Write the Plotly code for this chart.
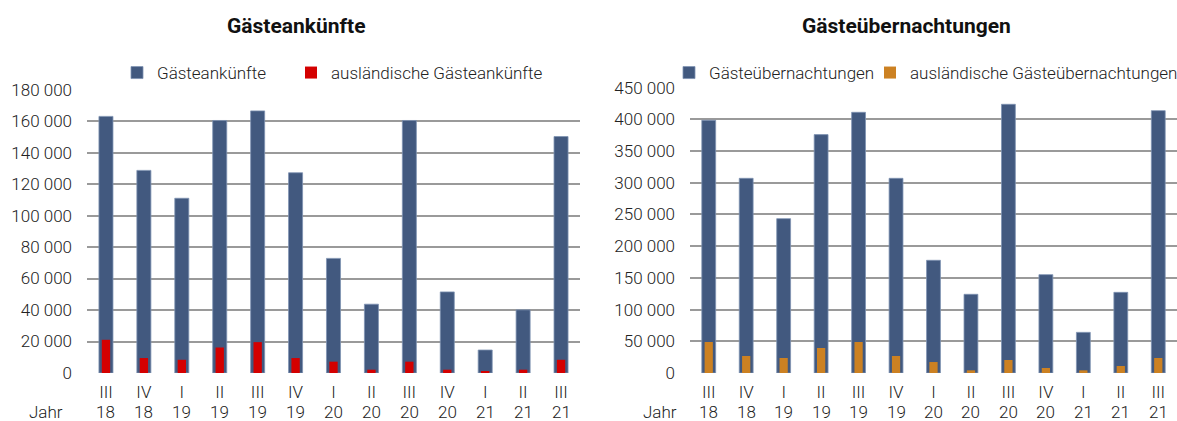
import plotly.graph_objects as go

quarters = ["III", "IV", "I", "II", "III", "IV", "I", "II", "III", "IV", "I", "II", "III"]
years = ["18", "18", "19", "19", "19", "19", "20", "20", "20", "20", "21", "21", "21"]

arrivals = [163000, 128700, 111000, 160400, 166500, 127200, 72800, 43700, 160400, 51500, 14600, 40100, 150200]
arrivals_foreign = [21100, 9500, 8400, 16200, 19600, 9500, 7200, 2100, 7200, 2100, 850, 2100, 8400]

nights = [398500, 307000, 243400, 375900, 411100, 307000, 177700, 124100, 423700, 155100, 64100, 127200, 413700]
nights_foreign = [48900, 26800, 23700, 39400, 48900, 26800, 17300, 4200, 20500, 7900, 4200, 11000, 23700]

BLUE = "#42597f"
BLUE_EDGE = "#7f93b3"
RED = "#d40000"
ORANGE = "#cc8122"
GRID = "#9a9a9a"
TXT = "#222222"
FONT = "Roboto"

xs = list(range(len(quarters)))

fig = go.Figure()
fig.add_trace(go.Bar(x=xs, y=arrivals, name="Gästeankünfte", width=0.37,
                     marker=dict(color=BLUE, line=dict(color=BLUE_EDGE, width=0.8)),
                     xaxis="x", yaxis="y", legend="legend"))
fig.add_trace(go.Bar(x=xs, y=arrivals_foreign, name="ausländische Gästeankünfte", width=0.22,
                     marker=dict(color=RED, line=dict(width=0)),
                     xaxis="x", yaxis="y", legend="legend2"))
fig.add_trace(go.Bar(x=xs, y=nights, name="Gästeübernachtungen", width=0.37,
                     marker=dict(color=BLUE, line=dict(color=BLUE_EDGE, width=0.8)),
                     xaxis="x2", yaxis="y2", legend="legend3"))
fig.add_trace(go.Bar(x=xs, y=nights_foreign, name="ausländische Gästeübernachtungen", width=0.22,
                     marker=dict(color=ORANGE, line=dict(width=0)),
                     xaxis="x2", yaxis="y2", legend="legend4"))

W, H = 1177, 421
def px(xp):
    return xp / W
def py(yp):
    return (H - yp) / H

axis_font = dict(family=FONT, size=17, color=TXT, weight=300)

xcommon = dict(tickmode="array", tickvals=xs, ticktext=quarters, showgrid=False,
               zeroline=False, showline=False, ticks="", tickfont=axis_font, ticklabelstandoff=7)
ycommon = dict(showgrid=True, gridcolor=GRID, gridwidth=2, zeroline=False, showline=False,
               ticks="", tickfont=axis_font, tickformat=",d", ticklabelstandoff=14)

annotations = []
for i, yr in enumerate(years):
    annotations.append(dict(x=i, y=py(412), xref="x", yref="paper", text=yr, showarrow=False,
                            font=axis_font, xanchor="center", yanchor="middle"))
    annotations.append(dict(x=i, y=py(412), xref="x2", yref="paper", text=yr, showarrow=False,
                            font=axis_font, xanchor="center", yanchor="middle"))
annotations.append(dict(x=px(46), y=py(412), xref="paper", yref="paper", text="Jahr", showarrow=False,
                        font=axis_font, xanchor="center", yanchor="middle"))
annotations.append(dict(x=px(660), y=py(412), xref="paper", yref="paper", text="Jahr", showarrow=False,
                        font=axis_font, xanchor="center", yanchor="middle"))
title_font = dict(family=FONT, size=21, color="#111111")
annotations.append(dict(x=px(297), y=py(26), xref="paper", yref="paper", text="<b>Gästeankünfte</b>",
                        showarrow=False, font=title_font, xanchor="center", yanchor="middle"))
annotations.append(dict(x=px(906), y=py(26), xref="paper", yref="paper", text="<b>Gästeübernachtungen</b>",
                        showarrow=False, font=title_font, xanchor="center", yanchor="middle"))

def leg(xpix):
    return dict(orientation="h", x=px(xpix), y=py(73), xanchor="left", yanchor="middle",
                font=axis_font, bgcolor="rgba(0,0,0,0)", itemclick=False, itemdoubleclick=False)

fig.update_layout(
    width=W, height=H,
    margin=dict(l=0, r=0, t=0, b=0, pad=0, autoexpand=False),
    paper_bgcolor="white", plot_bgcolor="white",
    barmode="overlay",
    separators=", ",
    font=dict(family=FONT, color=TXT),
    xaxis=dict(domain=[px(87), px(580)], range=[-0.5, 12.5], anchor="y", **xcommon),
    yaxis=dict(domain=[py(373), py(89)], range=[0, 180400], tickvals=list(range(0, 180001, 20000)),
               anchor="x", **ycommon),
    xaxis2=dict(domain=[px(690), 1.0], range=[-0.5, 12.5], anchor="y2", **xcommon),
    yaxis2=dict(domain=[py(373), py(87)], range=[0, 451000], tickvals=list(range(0, 450001, 50000)),
                anchor="x2", **ycommon),
    legend=leg(117),
    legend2=leg(291),
    legend3=leg(669),
    legend4=leg(870),
    annotations=annotations,
    showlegend=True,
)

fig.write_html("out.html", config={"displayModeBar": False},
               post_script="document.body.style.margin='0';document.body.style.overflow='hidden';")
